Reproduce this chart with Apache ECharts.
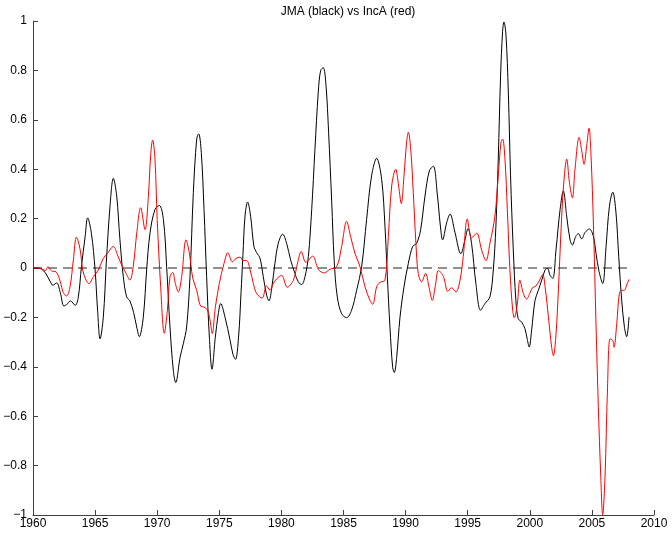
<!DOCTYPE html>
<html>
<head>
<meta charset="utf-8">
<title>JMA vs IncA</title>
<script src="https://cdn.jsdelivr.net/npm/echarts/dist/echarts.min.js"></script>
<style>
  html, body { margin: 0; padding: 0; background: #fff; }
  #chart { width: 672px; height: 533px; }
</style>
</head>
<body>
<div id="chart"></div>
<script>
// JMA (black) - years and values
const jmaYears = [
  1960.0, 1960.4, 1960.7, 1961.0, 1961.4, 1961.6, 1961.9, 1962.2, 1962.5, 1962.8,
  1963.0, 1963.4, 1963.65, 1963.9, 1964.2, 1964.4, 1964.7, 1965.0, 1965.2, 1965.4,
  1965.66, 1965.9, 1966.2, 1966.47, 1966.74, 1967.0, 1967.27, 1967.54, 1967.8, 1968.1,
  1968.35, 1968.56, 1968.88, 1969.15, 1969.42, 1969.82, 1970.17, 1970.5, 1970.76, 1971.03,
  1971.3, 1971.49, 1971.84, 1972.1, 1972.37, 1972.64, 1972.91, 1973.18, 1973.34, 1973.55,
  1973.77, 1973.98, 1974.2, 1974.41, 1974.68, 1974.92, 1975.11, 1975.46, 1975.86, 1976.1,
  1976.3, 1976.55, 1976.75, 1976.9, 1977.07, 1977.28, 1977.52, 1977.79, 1978.0, 1978.28,
  1978.54, 1978.81, 1979.0, 1979.2, 1979.48, 1979.75, 1980.1, 1980.42, 1980.74, 1981.09,
  1981.36, 1981.63, 1981.9, 1982.17, 1982.44, 1982.7, 1982.97, 1983.16, 1983.37, 1983.59,
  1983.8, 1984.05, 1984.25, 1984.5, 1984.85, 1985.25, 1985.65, 1986.06, 1986.46, 1986.86,
  1987.26, 1987.67, 1988.07, 1988.34, 1988.53, 1988.74, 1988.96, 1989.09, 1989.28, 1989.55,
  1989.87, 1990.22, 1990.57, 1990.89, 1991.21, 1991.56, 1991.91, 1992.23, 1992.55, 1992.8,
  1992.98, 1993.3, 1993.58, 1993.97, 1994.45, 1994.78, 1995.03, 1995.31, 1995.66, 1996.04,
  1996.39, 1996.79, 1997.06, 1997.27, 1997.46, 1997.65, 1997.81, 1997.92, 1998.08, 1998.27,
  1998.45, 1998.67, 1998.88, 1999.07, 1999.34, 1999.61, 1999.8, 1999.95, 2000.15, 2000.42,
  2000.69, 2000.96, 2001.23, 2001.42, 2001.63, 2001.85, 2002.11, 2002.44, 2002.7, 2002.97,
  2003.24, 2003.43, 2003.7, 2003.91, 2004.18, 2004.45, 2004.8, 2005.12, 2005.33, 2005.58,
  2005.87, 2006.14, 2006.41, 2006.68, 2006.94, 2007.16, 2007.4, 2007.62, 2007.8, 2007.99
];
const jmaValues = [
  0, 0, -0.005, -0.02, -0.056, -0.07, -0.06, -0.10, -0.154, -0.144,
  -0.133, -0.151, -0.117, 0.005, 0.128, 0.203, 0.141, -0.008, -0.171, -0.287,
  -0.199, 0.019, 0.25, 0.363, 0.291, 0.114, -0.035, -0.117, -0.133, -0.18,
  -0.239, -0.278, -0.199, -0.008, 0.141, 0.237, 0.253, 0.196, 0.005, -0.239,
  -0.416, -0.464, -0.362, -0.307, -0.239, -0.035, 0.305, 0.522, 0.543, 0.468,
  0.237, -0.035, -0.28, -0.41, -0.28, -0.185, -0.144, -0.199, -0.29, -0.35,
  -0.37, -0.28, -0.10, 0.05, 0.21, 0.267, 0.21, 0.087, 0.063, 0.039,
  -0.035, -0.11, -0.133, -0.09, 0.019, 0.10, 0.137, 0.10, 0.033, -0.022,
  -0.056, -0.067, -0.035, 0.046, 0.237, 0.48, 0.713, 0.80, 0.811, 0.74,
  0.55, 0.27, 0.03, -0.117, -0.185, -0.201, -0.171, -0.09, 0.005, 0.196,
  0.373, 0.444, 0.359, 0.169, -0.035, -0.239, -0.403, -0.423, -0.362, -0.199,
  -0.076, 0.019, 0.087, 0.10, 0.155, 0.291, 0.393, 0.412, 0.30, 0.17,
  0.114, 0.182, 0.218, 0.145, 0.058, 0.114, 0.16, 0.10, -0.063, -0.171,
  -0.144, -0.117, -0.008, 0.169, 0.441, 0.781, 0.958, 0.996, 0.944, 0.713,
  0.373, 0.073, -0.131, -0.205, -0.219, -0.246, -0.29, -0.32, -0.25, -0.131,
  -0.09, -0.049, -0.008, -0.001, -0.029, -0.042, 0.073, 0.237, 0.312, 0.21,
  0.114, 0.093, 0.128, 0.139, 0.118, 0.144, 0.158, 0.128, 0.06, -0.015,
  -0.063, 0.087, 0.25, 0.307, 0.223, 0.046, -0.131, -0.24, -0.278, -0.199
];

// IncA (red)
const incaYears = [
  1960.0, 1960.5, 1961.0, 1961.2, 1961.5, 1961.85, 1962.2, 1962.44, 1962.7, 1962.98,
  1963.25, 1963.5, 1963.8, 1964.0, 1964.27, 1964.5, 1964.86, 1965.26, 1965.66, 1966.0,
  1966.47, 1966.8, 1967.14, 1967.5, 1967.8, 1968.08, 1968.35, 1968.67, 1969.02, 1969.29,
  1969.47, 1969.63, 1969.82, 1970.0, 1970.28, 1970.57, 1970.82, 1971.03, 1971.25, 1971.46,
  1971.7, 1971.97, 1972.32, 1972.59, 1972.86, 1973.18, 1973.5, 1973.77, 1974.04, 1974.25,
  1974.43, 1974.68, 1975.0, 1975.38, 1975.7, 1976.05, 1976.35, 1976.67, 1976.93, 1977.2,
  1977.47, 1977.74, 1978.0, 1978.45, 1978.8, 1979.08, 1979.35, 1979.6, 1980.02, 1980.47,
  1980.96, 1981.3, 1981.6, 1981.97, 1982.52, 1982.97, 1983.43, 1983.91, 1984.45, 1984.85,
  1985.25, 1985.57, 1985.92, 1986.33, 1986.73, 1987.13, 1987.35, 1987.67, 1987.94, 1988.34,
  1988.61, 1988.88, 1989.2, 1989.44, 1989.65, 1989.87, 1990.08, 1990.22, 1990.41, 1990.62,
  1990.83, 1991.02, 1991.29, 1991.61, 1991.88, 1992.15, 1992.4, 1992.65, 1993.05, 1993.4,
  1993.7, 1994.05, 1994.38, 1994.64, 1994.97, 1995.31, 1995.72, 1996.12, 1996.47, 1996.79,
  1997.19, 1997.46, 1997.68, 1997.81, 1998.0, 1998.19, 1998.4, 1998.62, 1998.75, 1999.0,
  1999.2, 1999.48, 1999.74, 2000.02, 2000.23, 2000.5, 2000.82, 2001.04, 2001.23, 2001.5,
  2001.76, 2001.9, 2002.11, 2002.3, 2002.57, 2002.78, 2002.97, 2003.19, 2003.43, 2003.64,
  2003.97, 2004.18, 2004.37, 2004.58, 2004.77, 2004.93, 2005.12, 2005.33, 2005.52, 2005.71,
  2005.87, 2006.06, 2006.25, 2006.46, 2006.68, 2006.78, 2007.0, 2007.21, 2007.4, 2007.62,
  2007.8, 2007.99
];
const incaValues = [
  0, 0, -0.01, 0.005, -0.012, -0.015, -0.056, -0.10, -0.113, -0.076,
  0.033, 0.125, 0.073, -0.008, -0.049, -0.063, -0.035, -0.008, 0.039, 0.06,
  0.087, 0.053, 0.012, -0.022, -0.049, 0.01, 0.14, 0.244, 0.155, 0.291,
  0.454, 0.518, 0.441, 0.196, -0.076, -0.264, -0.171, -0.035, -0.018, -0.063,
  -0.097, -0.035, 0.114, 0.06, -0.04, -0.09, -0.155, -0.158, -0.17, -0.21,
  -0.265, -0.16, -0.063, 0.019, 0.062, 0.025, 0.039, 0.044, 0.03, 0.03,
  -0.005, -0.063, -0.103, -0.122, -0.072, -0.09, -0.063, -0.045, -0.03, -0.078,
  -0.05, 0.02, 0.067, 0.023, 0.048, -0.005, -0.02, -0.005, 0.005, 0.087,
  0.189, 0.128, 0.06, 0.005, -0.076, -0.131, -0.147, -0.076, -0.058, -0.049,
  0.128, 0.332, 0.40, 0.332, 0.261, 0.373, 0.509, 0.55, 0.482, 0.305,
  0.10, -0.022, -0.056, -0.022, -0.076, -0.131, -0.07, -0.01, -0.035, -0.095,
  -0.08, -0.097, -0.05, 0.046, 0.198, 0.121, 0.141, 0.073, 0.03, 0.10,
  0.21, 0.373, 0.509, 0.522, 0.441, 0.237, -0.008, -0.171, -0.201, -0.144,
  -0.049, -0.103, -0.126, -0.10, -0.079, -0.073, -0.046, -0.026, -0.076, -0.199,
  -0.321, -0.355, -0.267, -0.09, 0.21, 0.373, 0.441, 0.346, 0.284, 0.40,
  0.529, 0.475, 0.42, 0.495, 0.566, 0.454, 0.182, -0.226, -0.566, -0.838,
  -0.999, -0.838, -0.498, -0.287, -0.294, -0.321, -0.226, -0.103, -0.09, -0.09,
  -0.069, -0.046
];

// zero reference line
const zeroYears = [1960, 2008];
const zeroValues = [0, 0];

const pairs = (xs, ys) => xs.map((x, i) => [x, ys[i]]);

const fontFamily = '"Liberation Sans", Arial, Helvetica, sans-serif';
const axisColor = '#404040';

const chart = echarts.init(document.getElementById('chart'));
chart.setOption({
  animation: false,
  backgroundColor: '#fff',
  title: {
    text: 'JMA (black) vs IncA (red)',
    left: 343,
    top: 1,
    textAlign: 'center',
    textStyle: { fontFamily: fontFamily, fontSize: 12, fontWeight: 'normal', color: '#000' }
  },
  grid: { left: 33, right: 18, top: 21, bottom: 18 },
  xAxis: {
    type: 'value',
    position: 'bottom',
    min: 1960,
    max: 2010,
    interval: 5,
    axisLine: { onZero: false, lineStyle: { color: axisColor, width: 1 } },
    axisTick: { inside: true, length: 5, lineStyle: { color: axisColor } },
    axisLabel: {
      color: '#000',
      fontFamily: fontFamily,
      fontSize: 12,
      margin: 3,
      formatter: function (v) { return String(v); }
    },
    splitLine: { show: false }
  },
  yAxis: {
    type: 'value',
    position: 'left',
    min: -1,
    max: 1,
    interval: 0.2,
    axisLine: { show: true, onZero: false, lineStyle: { color: axisColor, width: 1 } },
    axisTick: { show: true, inside: true, length: 5, lineStyle: { color: axisColor } },
    axisLabel: {
      color: '#000',
      fontFamily: fontFamily,
      fontSize: 12,
      margin: 6,
      formatter: function (v) {
        const r = Math.round(v * 10) / 10;
        return r === 0 ? '0' : String(r).replace('-', '\u2212');
      }
    },
    splitLine: { show: false }
  },
  series: [
    {
      name: 'zero',
      type: 'line',
      data: pairs(zeroYears, zeroValues),
      symbol: 'none',
      lineStyle: { color: '#222', width: 1, type: [9, 6] },
      z: 1
    },
    {
      name: 'JMA',
      type: 'line',
      data: pairs(jmaYears, jmaValues),
      symbol: 'none',
      smooth: 0.35,
      lineStyle: { color: '#000', width: 1 },
      z: 2
    },
    {
      name: 'IncA',
      type: 'line',
      data: pairs(incaYears, incaValues),
      symbol: 'none',
      smooth: 0.35,
      lineStyle: { color: '#ff0000', width: 1 },
      z: 3
    }
  ]
});
</script>
</body>
</html>
